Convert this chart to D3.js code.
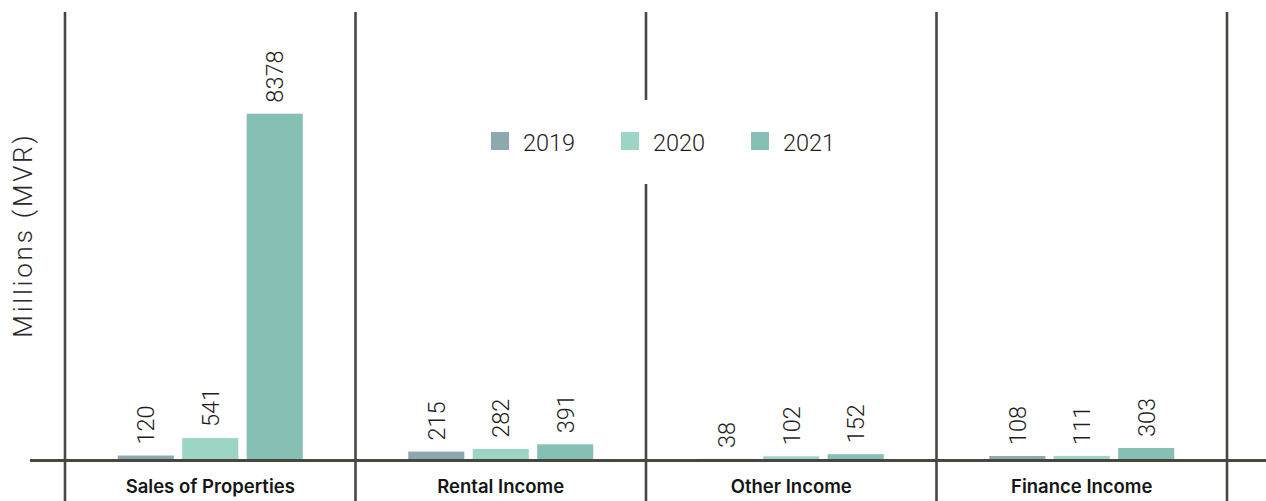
<!DOCTYPE html>
<html>
<head>
<meta charset="utf-8">
<script src="https://cdn.jsdelivr.net/npm/d3@7"></script>
<style>
  html, body { margin: 0; padding: 0; background: #ffffff; }
  svg { display: block; }
</style>
</head>
<body>
<svg id="chart" width="1266" height="501"></svg>
<script>
// Revenue by stream, millions of MVR
const categories = ["Sales of Properties", "Rental Income", "Other Income", "Finance Income"];
const years = ["2019", "2020", "2021"];
const values2019 = [120, 215, 38, 108];
const values2020 = [541, 282, 102, 111];
const values2021 = [8378, 391, 152, 303];
const yTitle = "Millions (MVR)";

const seriesValues = [values2019, values2020, values2021];
const colors = ["#8ea8b0", "#9dd5c5", "#86c0b5"];
const lineColor = "#46473f";

const svg = d3.select("#chart");
const W = 1266, H = 501;
const baseY = 460.5;

const x0 = d3.scaleBand().domain(categories).range([65, 1227]).padding(0);
const step = x0.step();
const groupW = 185;
const x1 = d3.scaleBand().domain(years)
  .range([(step - groupW) / 2, (step + groupW) / 2])
  .paddingInner(0.13).paddingOuter(0);
const y = d3.scaleLinear().domain([0, 10000]).range([baseY, baseY - 414]);

const rows = categories.map((c, i) => ({
  category: c,
  items: years.map((yr, j) => ({ year: yr, value: seriesValues[j][i], color: colors[j] }))
}));

// Bars
const groups = svg.append("g").selectAll("g").data(rows).join("g")
  .attr("transform", d => `translate(${x0(d.category)},0)`);

groups.selectAll("rect").data(d => d.items).join("rect")
  .attr("x", d => x1(d.year))
  .attr("width", x1.bandwidth())
  .attr("y", d => y(d.value))
  .attr("height", d => baseY - y(d.value))
  .attr("fill", d => d.color);

// Value labels, rotated
groups.selectAll("text").data(d => d.items).join("text")
  .attr("transform", d => `translate(${x1(d.year) + x1.bandwidth() / 2 + 8.5},${y(d.value) - 11}) rotate(-90)`)
  .attr("text-anchor", "start")
  .attr("font-family", "Roboto, 'Liberation Sans', sans-serif")
  .attr("font-weight", 300)
  .attr("font-size", 23.5)
  .attr("fill", "#1e1e1e")
  .text(d => d.value);

// Category dividers
const dividers = categories.map(c => x0(c)).concat([x0.range()[1]]);
svg.append("g").selectAll("line").data(dividers).join("line")
  .attr("x1", d => d).attr("x2", d => d)
  .attr("y1", 12).attr("y2", H)
  .attr("stroke", lineColor).attr("stroke-width", 2.6);

// Baseline
svg.append("line")
  .attr("x1", 30).attr("x2", W)
  .attr("y1", baseY).attr("y2", baseY)
  .attr("stroke", lineColor).attr("stroke-width", 2.8);

// Category labels
svg.append("g").selectAll("text").data(categories).join("text")
  .attr("x", d => x0(d) + step / 2)
  .attr("y", 493)
  .attr("text-anchor", "middle")
  .attr("font-family", "Inter, 'Open Sans', sans-serif")
  .attr("font-weight", 600)
  .attr("font-size", 18.5)
  .attr("fill", "#161616")
  .text(d => d);

// Y axis title
svg.append("text")
  .attr("transform", "translate(32,235) rotate(-90)")
  .attr("text-anchor", "middle")
  .attr("font-family", "Roboto, 'Liberation Sans', sans-serif")
  .attr("font-weight", 300)
  .attr("font-size", 26)
  .attr("letter-spacing", 2.8)
  .attr("fill", "#2a2a2a")
  .text(yTitle);

// Legend with white backing over the divider
const legend = svg.append("g");
legend.append("rect")
  .attr("x", 478).attr("y", 100).attr("width", 370).attr("height", 84)
  .attr("fill", "#ffffff");
const lx = d3.scalePoint().domain(years).range([491, 751]);
const items = legend.selectAll("g.item").data(years).join("g").attr("class", "item")
  .attr("transform", d => `translate(${lx(d)},132)`);
items.append("rect")
  .attr("width", 18).attr("height", 18)
  .attr("fill", (d, i) => colors[i]);
items.append("text")
  .attr("x", 32).attr("y", 18.5)
  .attr("font-family", "Roboto, 'Liberation Sans', sans-serif")
  .attr("font-weight", 300)
  .attr("font-size", 23.5)
  .attr("fill", "#1e1e1e")
  .text(d => d);
</script>
</body>
</html>
